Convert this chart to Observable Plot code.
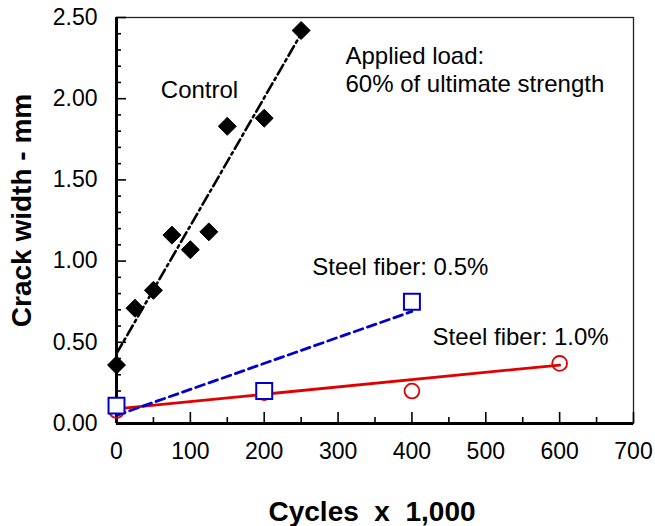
<!DOCTYPE html>
<html>
<head>
<meta charset="utf-8">
<script src="https://cdn.jsdelivr.net/npm/d3@7"></script>
<script src="https://cdn.jsdelivr.net/npm/@observablehq/plot@0.6"></script>
<style>
  html, body { margin: 0; padding: 0; background: #fff; }
  #chart svg { font-family: "Liberation Sans", Arial, sans-serif; display: block; }
</style>
</head>
<body>
<div id="chart"></div>
<script>
// ---- data ----
const controlCycles = [0, 25, 50, 75, 100, 125, 150, 200, 250];
const controlWidth  = [0.36, 0.71, 0.82, 1.16, 1.07, 1.18, 1.83, 1.88, 2.42];
const fiber05Cycles = [0, 200, 400];
const fiber05Width  = [0.11, 0.20, 0.75];
const fiber10Cycles = [0, 200, 400, 600];
const fiber10Width  = [0.08, 0.19, 0.20, 0.37];
// fitted trend lines (end points)
const controlFitCycles = [0, 250];
const controlFitWidth  = [0.43, 2.40];
const fiber05FitCycles = [0, 400];
const fiber05FitWidth  = [0.05, 0.69];
const fiber10FitCycles = [0, 600];
const fiber10FitWidth  = [0.09, 0.36];
// ticks
const xMajor = [0, 100, 200, 300, 400, 500, 600, 700];
const xMinor = [50, 150, 250, 350, 450, 550, 650];
const yMajor = [0, 0.5, 1.0, 1.5, 2.0, 2.5];
const yMinor = [0.1,0.2,0.3,0.4,0.6,0.7,0.8,0.9,1.1,1.2,1.3,1.4,1.6,1.7,1.8,1.9,2.1,2.2,2.3,2.4];
// annotations
const noteText  = ["Control", "Applied load:\n60% of ultimate strength", "Steel fiber: 0.5%", "Steel fiber: 1.0%"];
const noteX     = [60, 310, 265, 428];
const noteY     = [2.06, 2.18, 0.97, 0.54];
const xTitle = "Cycles\u00a0 x\u00a0 1,000";
const yTitle = "Crack width - mm";

const zip = (xs, ys) => xs.map((x, i) => ({x, y: ys[i]}));
const control = zip(controlCycles, controlWidth);
const fiber05 = zip(fiber05Cycles, fiber05Width);
const fiber10 = zip(fiber10Cycles, fiber10Width);
const notes = noteText.map((t, i) => ({text: t, x: noteX[i], y: noteY[i]}));

const RED = "#e00000", BLUE = "#0000cc";

const chart = Plot.plot({
  width: 655,
  height: 526,
  marginLeft: 116,
  marginRight: 22,
  marginTop: 17,
  marginBottom: 103,
  x: {domain: [0, 700]},
  y: {domain: [0, 2.5]},
  style: {background: "#fff", overflow: "visible"},
  marks: [
    Plot.frame({stroke: "#222", strokeWidth: 1.3}),
    // inward ticks
    Plot.axisX(xMajor, {anchor: "bottom", tickSize: 11, dy: -11, tickFormat: () => "", strokeWidth: 1.6, label: null}),
    Plot.axisX(xMinor, {anchor: "bottom", tickSize: 6, dy: -6, tickFormat: () => "", strokeWidth: 1.6, label: null}),
    Plot.axisY(yMajor, {anchor: "left", tickSize: 10, dx: 10, tickFormat: () => "", strokeWidth: 1.6, label: null}),
    Plot.axisY(yMinor, {anchor: "left", tickSize: 5, dx: 5, tickFormat: () => "", strokeWidth: 1.6, label: null}),
    // tick labels
    Plot.axisX(xMajor, {anchor: "bottom", tickSize: 0, tickPadding: 19, fontSize: 23, fill: "#000", label: null}),
    Plot.axisY(yMajor, {anchor: "left", tickSize: 0, tickPadding: 19, fontSize: 23, fill: "#000", tickFormat: d3.format(".2f"), label: null}),
    Plot.ruleX([0], {stroke: "#000", strokeWidth: 3}),
    Plot.ruleY([0], {stroke: "#000", strokeWidth: 3}),
    // fit lines
    Plot.line(zip(fiber10FitCycles, fiber10FitWidth), {x: "x", y: "y", stroke: RED, strokeWidth: 2.8}),
    Plot.line(zip(fiber05FitCycles, fiber05FitWidth), {x: "x", y: "y", stroke: BLUE, strokeWidth: 2.8, strokeDasharray: "9,5"}),
    Plot.line(zip(controlFitCycles, controlFitWidth), {x: "x", y: "y", stroke: "#000", strokeWidth: 2.6, strokeDasharray: "11,4,2.5,4"}),
    // points
    Plot.dot(fiber10, {x: "x", y: "y", r: 7.4, stroke: RED, strokeWidth: 1.8, fill: "none"}),
    Plot.dot(fiber05, {x: "x", y: "y", symbol: "square", r: 9, stroke: BLUE, strokeWidth: 2, fill: "#fff"}),
    Plot.dot(control, {x: "x", y: "y", symbol: "diamond2", r: 8.1, fill: "#000", stroke: "#000", strokeWidth: 1}),
    // annotations
    Plot.text(notes, {x: "x", y: "y", text: "text", textAnchor: "start", lineAnchor: "middle", fontSize: 24, lineHeight: 1.17, fill: "#000"}),
    // axis titles
    Plot.text([xTitle], {frameAnchor: "bottom", textAnchor: "middle", dx: -3, dy: 97, lineAnchor: "bottom", fontSize: 28, fontWeight: "bold", fill: "#000"}),
    Plot.text([yTitle], {frameAnchor: "left", textAnchor: "middle", lineAnchor: "middle", rotate: -90, dx: -94, dy: -10, fontSize: 28, fontWeight: "bold", fill: "#000"})
  ]
});
document.getElementById("chart").appendChild(chart);
</script>
</body>
</html>
